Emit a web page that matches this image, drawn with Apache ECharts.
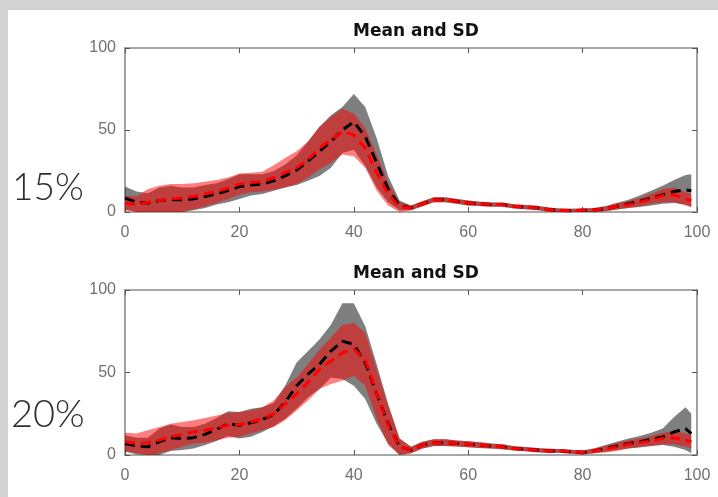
<!DOCTYPE html>
<html>
<head>
<meta charset="utf-8">
<script src="https://cdn.jsdelivr.net/npm/echarts@6/dist/echarts.min.js"></script>
<style>html,body{margin:0;padding:0;background:#fff}#c{width:718px;height:497px}</style>
</head>
<body>
<div id="c"></div>
<script>
// x positions (percent of cycle)
const xs = [0,2,4,6,8,10,12,14,16,18,20,22,24,26,28,30,32,34,36,38,40,42,44,46,48,50,52,54,56,58,60,62,64,66,68,70,72,74,76,78,80,82,84,86,88,90,92,94,96,98,99];

// Panel 1 (15%) — black group
const p1BlackMean = [8.5,6,5.5,7,7.5,7.5,8,9.5,11,13,15.5,16.5,17,19,22,25.5,31,37,43,50,55,46,30,14,4,2.5,5,7.5,7.5,6.5,5.5,5,4.5,4.5,3.5,3,2.5,1.5,1,0.8,1,1.2,2,3.5,5,6.5,8.5,10.5,12.5,13.5,13];
const p1BlackSD   = [7,6.5,6,8,8.5,7.5,7,7,6.5,7,7.5,6.5,6,6,7,9,12,15,16,14,17,18,15,8,3,1.5,1.5,1.5,1.5,1.5,1.5,1.3,1.3,1.3,1.3,1.3,1.3,1.3,1.2,1.2,1.2,1.2,1.5,2,2.5,3.5,4.5,5.5,7,9,10];
// Panel 1 (15%) — red group
const p1RedMean = [5.5,4.5,6,7,8,8.5,9.5,11,12.5,14.5,17,18,18.5,21,24,27,32,39,44,49,47,39,24,11,3,2.5,5,7.5,7.5,6.5,5.5,5,4.5,4.5,3.5,3,2.5,1.5,1,0.8,1,1.2,2,3.5,4.5,6,8,10,10.5,8,7];
const p1RedSD   = [4.5,5,8,9,9,8.5,8,7.5,7,6.5,6.5,6,6,7.5,9,10,11,13,14,14,13,12,11,7,3,1.5,1.5,1.5,1.5,1.5,1.5,1.3,1.3,1.3,1.3,1.3,1.3,1.3,1.2,1.2,1.2,1.2,1.5,2,2,2.5,3,4,4.5,4,4];

// Panel 2 (20%) — black group
const p2BlackMean = [7,5.5,5,8,10.5,10,10.5,12.5,15.5,19,18,19.5,21.5,24.5,32,42,49,55,63,69,67,56,37,19,5,3,6,7.5,7.5,7,6.5,6,5.5,5,4,3.5,3,2.5,2.5,2,1.5,2.5,4,5.5,7,8,9.5,11,14,16,13];
const p2BlackSD   = [5,5,5.5,8,8,7,6.5,6.5,7,7.5,8,8.5,7.5,7,10,14,14,15,16,23,25,22,18,12,5,2,2,2,2,1.8,1.8,1.7,1.5,1.5,1.3,1.3,1.3,1.3,1.2,1.2,1.2,1.5,2,2.5,3,3.5,4,5,9,13,12];
// Panel 2 (20%) — red group
const p2RedMean = [8,7,7.5,9,11,12.5,14,15,16.5,18,18.5,20,22,25,31,37,44,52,57,62,64,58,37,18,5,3,6,7.5,7.5,7,6.5,6,5.5,5,4,3.5,3,2.5,2.5,2,1.5,2.5,3.5,5,6.5,7.5,8.5,10,10.5,9,8];
const p2RedSD   = [5.5,6,7.5,8,8,7.5,7,7.5,7.5,7.5,7.5,7,7,8,10,10,11,12,14,17,16,16,15,12,5,2,2,2,2,1.8,1.8,1.7,1.5,1.5,1.3,1.3,1.3,1.3,1.2,1.2,1.2,1.5,2,2.5,2.5,2.5,3,3.5,4,4,4];

const panelLabels = ['15%', '20%'];
const titleText = 'Mean and SD';
const xTicks = [0, 20, 40, 60, 80, 100];
const yTicks = [0, 50, 100];

const chart = echarts.init(document.getElementById('c'), null, {renderer: 'canvas'});

const grids = [
  {left: 125, top: 48, width: 572, height: 164},
  {left: 125, top: 290, width: 572, height: 165}
];

const axisColor = '#8a8a8a';
const labelColor = '#707070';
const font = 'Liberation Sans, Arial, sans-serif';

const xAxes = [], yAxes = [];
grids.forEach((g, i) => {
  xAxes.push({
    type: 'value', gridIndex: i, min: xTicks[0], max: xTicks[xTicks.length-1], interval: 20,
    position: 'bottom',
    axisLine: {show: true, onZero: false, lineStyle: {color: axisColor, width: 1.6}},
    axisTick: {show: true, inside: true, length: 5, lineStyle: {color: '#555'}},
    axisLabel: {color: labelColor, fontSize: 16, fontFamily: font, margin: 13},
    splitLine: {show: false}
  });
  xAxes.push({
    type: 'value', gridIndex: i, min: 0, max: 100, interval: 20, position: 'top',
    axisLine: {show: true, onZero: false, lineStyle: {color: axisColor, width: 1.6}},
    axisTick: {show: true, inside: true, length: 5, lineStyle: {color: '#555'}},
    axisLabel: {show: false}, splitLine: {show: false}
  });
  yAxes.push({
    type: 'value', gridIndex: i, min: yTicks[0], max: yTicks[yTicks.length-1], interval: 50,
    position: 'left',
    axisLine: {show: true, onZero: false, lineStyle: {color: axisColor, width: 1.6}},
    axisTick: {show: true, inside: true, length: 5, lineStyle: {color: '#555'}},
    axisLabel: {color: labelColor, fontSize: 16, fontFamily: font, margin: 9},
    splitLine: {show: false}
  });
  yAxes.push({
    type: 'value', gridIndex: i, min: 0, max: 100, interval: 50, position: 'right',
    axisLine: {show: true, onZero: false, lineStyle: {color: axisColor, width: 1.6}},
    axisTick: {show: true, inside: true, length: 5, lineStyle: {color: '#555'}},
    axisLabel: {show: false}, splitLine: {show: false}
  });
});

function pairs(vals) { return xs.map((x, i) => [x, vals[i]]); }

// Mean ± SD band drawn as one polygon, mapped through the axis scales (api.coord)
function bandSeries(mean, sd, panel, color) {
  const lower = mean.map((m, i) => Math.max(0, m - sd[i]));
  const upper = mean.map((m, i) => Math.min(100, m + sd[i]));
  const data = xs.map((x, i) => [x, lower[i], upper[i]]);
  return {
    type: 'custom', xAxisIndex: panel*2, yAxisIndex: panel*2, silent: true, z: 1,
    data: data,
    encode: {x: 0, y: [1, 2]},
    clip: true,
    renderItem: function (params, api) {
      if (params.dataIndex !== 0) return null;
      const pts = [];
      for (let i = 0; i < data.length; i++) pts.push(api.coord([data[i][0], data[i][2]]));
      for (let i = data.length - 1; i >= 0; i--) pts.push(api.coord([data[i][0], data[i][1]]));
      return {type: 'polygon', shape: {points: pts}, style: {fill: color}};
    }
  };
}

function meanSeries(mean, panel, color, z) {
  return {type: 'line', xAxisIndex: panel*2, yAxisIndex: panel*2, data: pairs(mean), symbol: 'none',
    lineStyle: {color: color, width: 3, type: [10, 6]}, silent: true, z: z};
}

const series = [
  bandSeries(p1BlackMean, p1BlackSD, 0, 'rgba(0,0,0,0.5)'),
  bandSeries(p1RedMean, p1RedSD, 0, 'rgba(255,0,0,0.5)'),
  meanSeries(p1BlackMean, 0, '#000000', 3),
  meanSeries(p1RedMean, 0, '#ff0000', 4),
  bandSeries(p2BlackMean, p2BlackSD, 1, 'rgba(0,0,0,0.5)'),
  bandSeries(p2RedMean, p2RedSD, 1, 'rgba(255,0,0,0.5)'),
  meanSeries(p2BlackMean, 1, '#000000', 3),
  meanSeries(p2RedMean, 1, '#ff0000', 4)
];

const titleFont = 'DejaVu Sans, Liberation Sans, sans-serif';

chart.setOption({
  backgroundColor: '#ffffff',
  animation: false,
  title: [
    {text: titleText, left: 411, top: 18, textAlign: 'center',
     textStyle: {fontSize: 17, fontWeight: 'bold', color: '#111', fontFamily: titleFont}},
    {text: titleText, left: 411, top: 260, textAlign: 'center',
     textStyle: {fontSize: 17, fontWeight: 'bold', color: '#111', fontFamily: titleFont}}
  ],
  graphic: [
    {type: 'rect', shape: {x: 0, y: 0, width: 718, height: 10}, style: {fill: '#d2d2d2'}, silent: true},
    {type: 'rect', shape: {x: 0, y: 0, width: 8, height: 497}, style: {fill: '#d2d2d2'}, silent: true},
    {type: 'text', left: 12, top: 170, style: {text: panelLabels[0], fontSize: 37, fontWeight: 300, fontFamily: 'Lato, Noto Sans, sans-serif', fill: '#2e2e2e'}},
    {type: 'text', left: 11, top: 396, style: {text: panelLabels[1], fontSize: 38, fontWeight: 300, fontFamily: 'Lato, Noto Sans, sans-serif', fill: '#2e2e2e'}}
  ],
  grid: grids,
  xAxis: xAxes,
  yAxis: yAxes,
  series: series
});
</script>
</body>
</html>
